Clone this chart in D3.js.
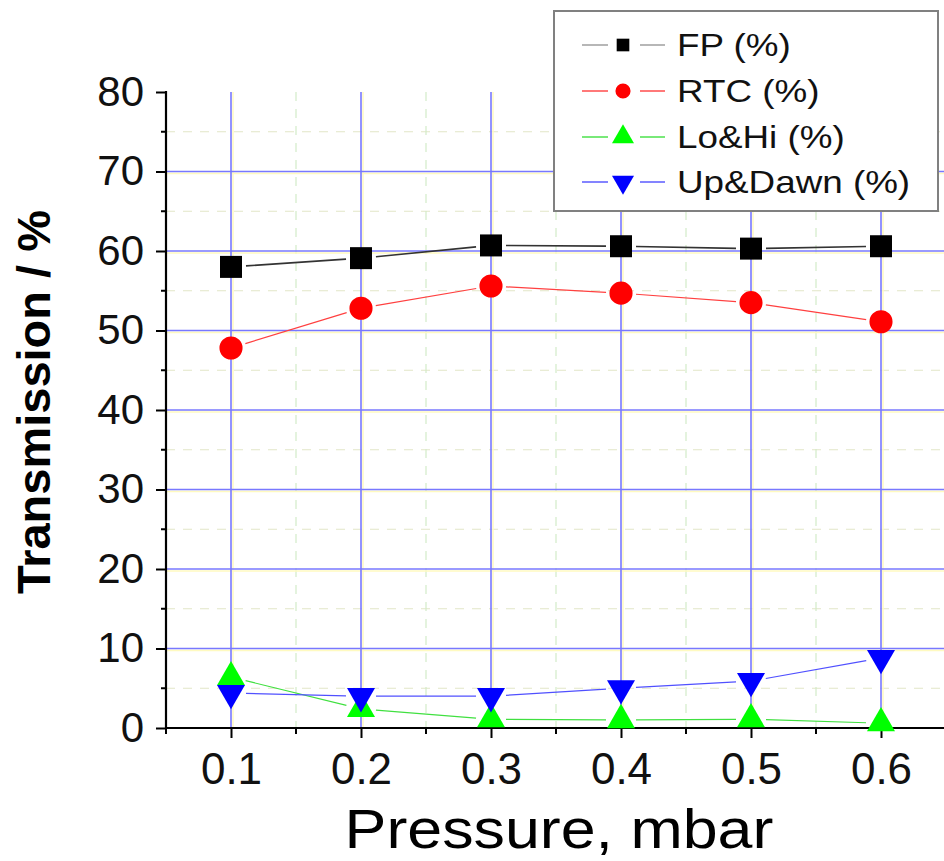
<!DOCTYPE html>
<html>
<head>
<meta charset="utf-8">
<script src="https://cdn.jsdelivr.net/npm/d3@7"></script>
<style>
  body { margin: 0; background: #fff; }
  svg { display: block; font-family: "Liberation Sans", Arial, sans-serif; }
</style>
</head>
<body>
<svg id="chart" width="944" height="861"></svg>
<script>
// ---- data ----
const pressure = [0.1, 0.2, 0.3, 0.4, 0.5, 0.6];
const fp       = [58.0, 59.1, 60.7, 60.6, 60.3, 60.6];
const rtc      = [47.8, 52.8, 55.6, 54.7, 53.5, 51.1];
const loHi     = [6.4, 2.4, 1.1, 1.0, 1.1, 0.6];
const upDawn   = [4.4, 4.0, 4.0, 5.0, 5.9, 8.8];
const seriesNames = ["FP (%)", "RTC (%)", "Lo&Hi (%)", "Up&Dawn (%)"];
const xTicks = [0.1, 0.2, 0.3, 0.4, 0.5, 0.6];
const xMinorTicks = [0.05, 0.15, 0.25, 0.35, 0.45, 0.55, 0.65];
const yTicks = [0, 10, 20, 30, 40, 50, 60, 70, 80];
const yMinorTicks = [5, 15, 25, 35, 45, 55, 65, 75];
const xTitle = "Pressure, mbar";
const yTitle = "Transmission / %";

// ---- layout ----
const svg = d3.select("#chart");
const x = d3.scaleLinear().domain([0.05, 0.65]).range([166, 946]);
const y = d3.scaleLinear().domain([0, 80]).range([728, 92]);
const xL = x.range()[0], xR = 944, yB = y.range()[0], yT = y.range()[1];

const series = [
  { name: seriesNames[0], values: fp,     line: "#333333", lw: 1.6, fill: "#000000", sym: d3.symbolSquare,   size: 484, rot: 0,   lsize: 160 },
  { name: seriesNames[1], values: rtc,    line: "#ff4040", lw: 1.2, fill: "#ff0000", sym: d3.symbolCircle,   size: 420, rot: 0,   lsize: 180 },
  { name: seriesNames[2], values: loHi,   line: "#40e040", lw: 1.2, fill: "#00ff00", sym: d3.symbolTriangle, size: 340, rot: 0,   lsize: 210 },
  { name: seriesNames[3], values: upDawn, line: "#5050ff", lw: 1.2, fill: "#0000ff", sym: d3.symbolTriangle, size: 340, rot: 180, lsize: 210 }
];

// ---- grid ----
const grid = svg.append("g");
// minor grid (dashed, faint)
grid.selectAll(".ymin").data(yMinorTicks).join("line")
  .attr("x1", xL).attr("x2", xR).attr("y1", d => y(d)).attr("y2", d => y(d))
  .attr("stroke", "#e2e6c8").attr("stroke-width", 1.2).attr("stroke-dasharray", "9,8");
grid.selectAll(".xmin").data(xMinorTicks.filter(d => d > 0.06 && d < 0.64)).join("line")
  .attr("x1", d => x(d)).attr("x2", d => x(d)).attr("y1", yT).attr("y2", yB)
  .attr("stroke", "#d2ecc8").attr("stroke-width", 1.2).attr("stroke-dasharray", "9,8");
// major grid with faint yellow shadow
const yMajor = yTicks.filter(d => d > 0 && d < 80);
grid.selectAll(".ysh").data(yMajor).join("line")
  .attr("x1", xL).attr("x2", xR).attr("y1", d => y(d) + 2).attr("y2", d => y(d) + 2)
  .attr("stroke", "#fffac0").attr("stroke-width", 1.5);
grid.selectAll(".xsh").data(xTicks).join("line")
  .attr("x1", d => x(d) + 2).attr("x2", d => x(d) + 2).attr("y1", yT).attr("y2", yB)
  .attr("stroke", "#fffac0").attr("stroke-width", 1.5);
grid.selectAll(".ymaj").data(yMajor).join("line")
  .attr("x1", xL).attr("x2", xR).attr("y1", d => y(d)).attr("y2", d => y(d))
  .attr("stroke", "#7878ff").attr("stroke-width", 1.6);
grid.selectAll(".xmaj").data(xTicks).join("line")
  .attr("x1", d => x(d)).attr("x2", d => x(d)).attr("y1", yT).attr("y2", yB)
  .attr("stroke", "#7878ff").attr("stroke-width", 1.6);

// ---- axes ----
const axisG = svg.append("g");
const xAxis = axisG.append("g").attr("transform", `translate(0,${yB})`)
  .call(d3.axisBottom(x).tickValues(xTicks).tickSize(10).tickSizeOuter(0).tickPadding(14).tickFormat(d3.format(".1f")));
xAxis.select(".domain").remove();
xAxis.selectAll("line").attr("stroke", "#000").attr("stroke-width", 2);
xAxis.selectAll("text").attr("font-size", 44).attr("fill", "#111").attr("dy", "0.72em");
axisG.append("g").selectAll("line").data(xMinorTicks.filter(d => x(d) < 944)).join("line")
  .attr("x1", d => x(d)).attr("x2", d => x(d)).attr("y1", yB).attr("y2", yB + 6)
  .attr("stroke", "#000").attr("stroke-width", 2);
axisG.append("line").attr("x1", xL).attr("x2", xR).attr("y1", yB).attr("y2", yB)
  .attr("stroke", "#000").attr("stroke-width", 2.2);

const yAxis = axisG.append("g").attr("transform", `translate(${xL},0)`)
  .call(d3.axisLeft(y).tickValues(yTicks).tickSize(10).tickSizeOuter(0).tickPadding(12));
yAxis.select(".domain").remove();
yAxis.selectAll("line").attr("stroke", "#000").attr("stroke-width", 2);
yAxis.selectAll("text").attr("font-size", 42).attr("fill", "#111");
axisG.append("g").selectAll("line").data(yMinorTicks).join("line")
  .attr("x1", xL - 5).attr("x2", xL).attr("y1", d => y(d)).attr("y2", d => y(d))
  .attr("stroke", "#000").attr("stroke-width", 2);
axisG.append("line").attr("x1", xL).attr("x2", xL).attr("y1", yT - 1).attr("y2", yB + 1)
  .attr("stroke", "#000").attr("stroke-width", 2.2);

// ---- titles ----
const xt = svg.append("text").attr("x", (343 + 775) / 2).attr("y", 848)
  .attr("text-anchor", "middle").attr("font-size", 56).attr("fill", "#000").text(xTitle);
const xtw = xt.node().getComputedTextLength();
xt.attr("textLength", xtw * 1.12).attr("lengthAdjust", "spacingAndGlyphs");

svg.append("text").attr("transform", "translate(50,402) rotate(-90)")
  .attr("text-anchor", "middle").attr("font-size", 47).attr("font-weight", "bold")
  .attr("fill", "#000").text(yTitle);

// ---- series lines (with gaps around markers) ----
const gap = 15;
const plot = svg.append("g");
series.forEach(s => {
  const pts = pressure.map((p, i) => [x(p), y(s.values[i])]);
  const segs = d3.pairs(pts).map(([a, b]) => {
    const dx = b[0] - a[0], dy = b[1] - a[1], L = Math.hypot(dx, dy);
    const ux = dx / L, uy = dy / L;
    return [a[0] + ux * gap, a[1] + uy * gap, b[0] - ux * gap, b[1] - uy * gap];
  });
  plot.append("g").selectAll("line").data(segs).join("line")
    .attr("x1", d => d[0]).attr("y1", d => d[1]).attr("x2", d => d[2]).attr("y2", d => d[3])
    .attr("stroke", s.line).attr("stroke-width", s.lw);
});
series.forEach(s => {
  plot.append("g").selectAll("path").data(pressure.map((p, i) => [x(p), y(s.values[i])])).join("path")
    .attr("d", d3.symbol().type(s.sym).size(s.size))
    .attr("transform", d => `translate(${d[0]},${d[1]}) rotate(${s.rot})`)
    .attr("fill", s.fill);
});

// ---- legend ----
const lg = svg.append("g");
lg.append("rect").attr("x", 554).attr("y", 11).attr("width", 384).attr("height", 200)
  .attr("fill", "#fff").attr("stroke", "#808080").attr("stroke-width", 2);
const rowsY = [45, 91, 137, 182];
series.forEach((s, i) => {
  const ry = rowsY[i];
  const lc = s.line === "#333333" ? "#999" : s.line;
  lg.append("line").attr("x1", 582).attr("x2", 608).attr("y1", ry).attr("y2", ry)
    .attr("stroke", lc).attr("stroke-width", 1.4);
  lg.append("line").attr("x1", 640).attr("x2", 665).attr("y1", ry).attr("y2", ry)
    .attr("stroke", lc).attr("stroke-width", 1.4);
  lg.append("path").attr("d", d3.symbol().type(s.sym).size(s.lsize))
    .attr("transform", `translate(623,${ry}) rotate(${s.rot})`).attr("fill", s.fill);
  const t = lg.append("text").attr("x", 677).attr("y", ry + 11).attr("font-size", 32)
    .attr("fill", "#111").text(s.name);
  const w = t.node().getComputedTextLength();
  t.attr("textLength", w * 1.15).attr("lengthAdjust", "spacingAndGlyphs");
});
</script>
</body>
</html>
